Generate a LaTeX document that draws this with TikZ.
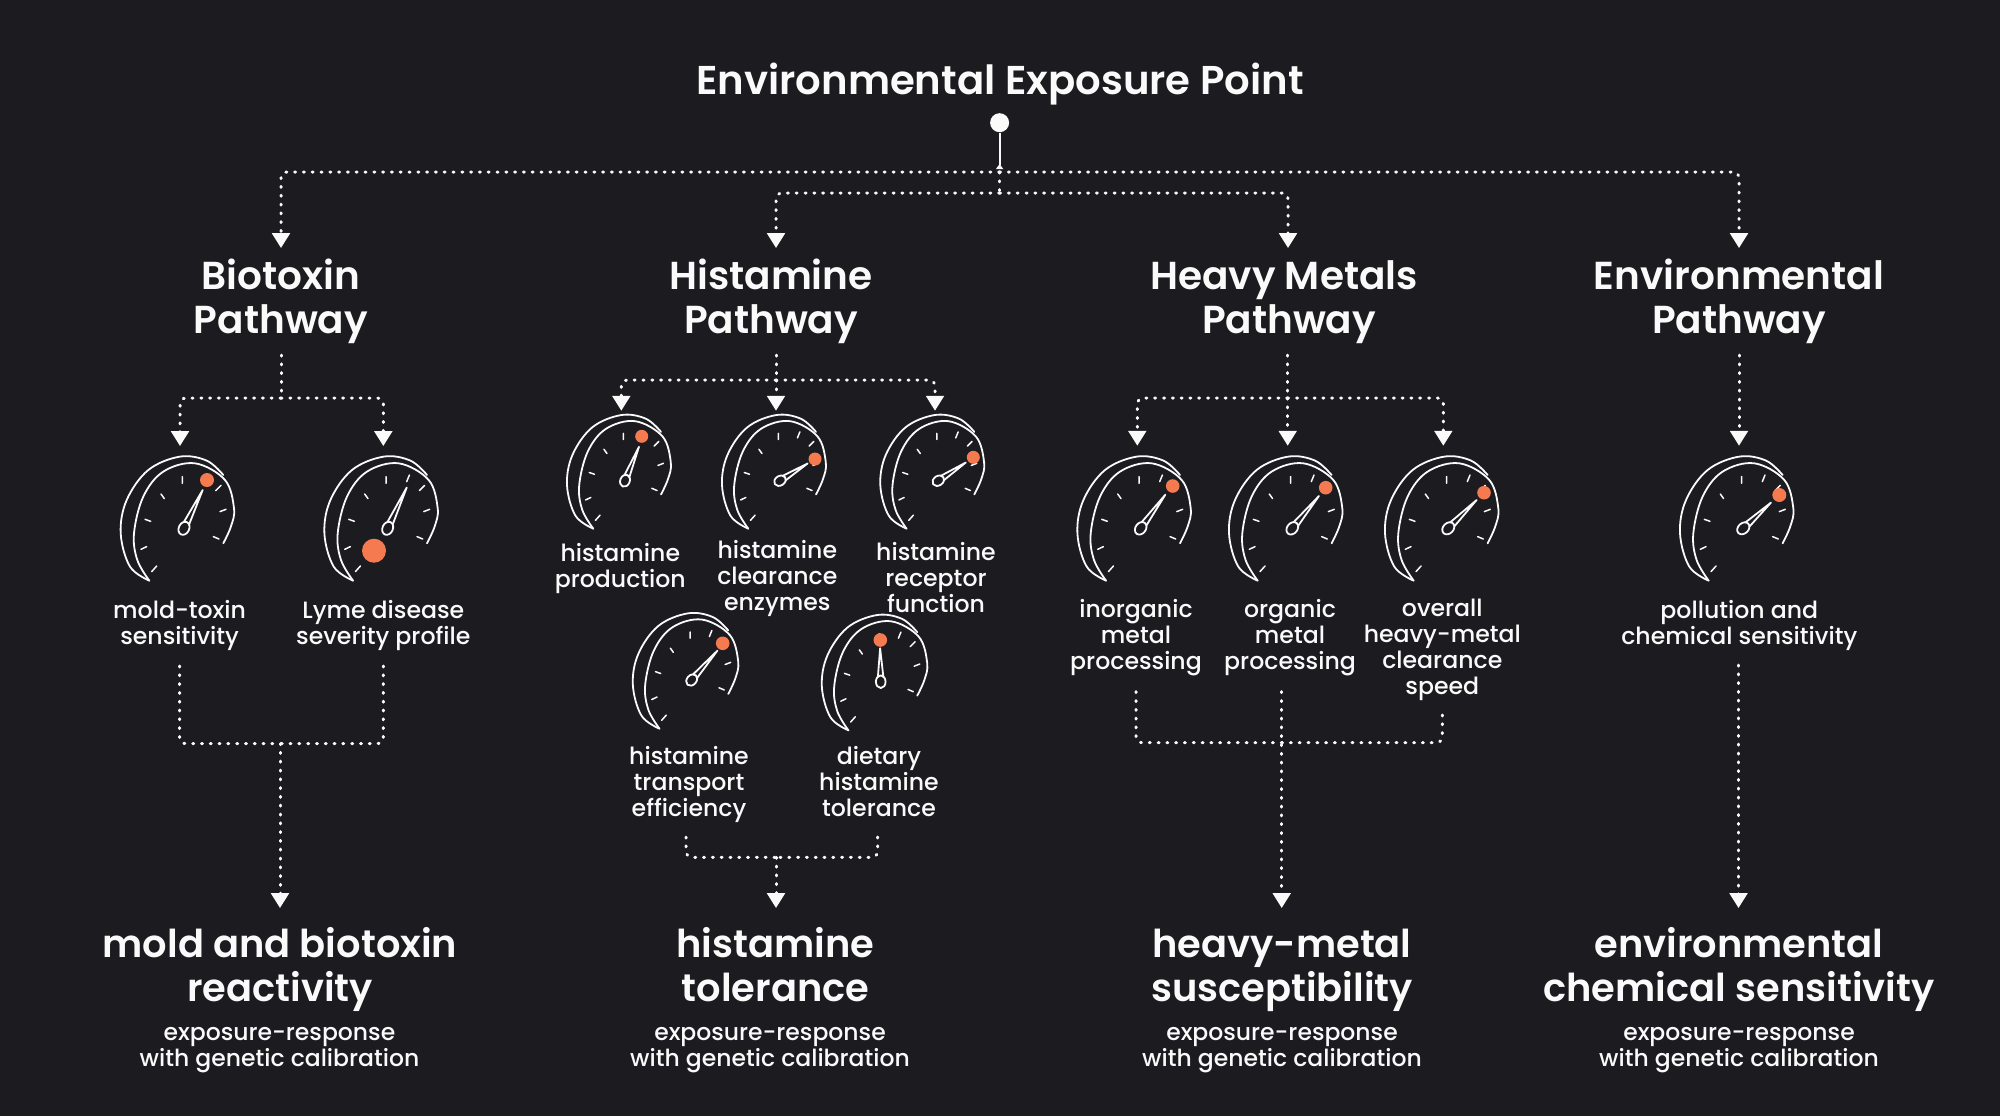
\documentclass[tikz,border=0pt]{standalone}
\usepackage{fontspec}
\usetikzlibrary{arrows.meta,calc}
\setmainfont{Poppins}
\newfontfamily\medf{Poppins Medium}
\newfontfamily\semif{Poppins SemiBold}
\definecolor{bgc}{HTML}{1C1C20}
\definecolor{dotc}{HTML}{F57A50}
\definecolor{ink}{HTML}{FAFAFA}
\tikzset{
  title/.style={text=ink,anchor=base,inner sep=0pt,align=center,font=\semif\fontsize{20.1}{22}\selectfont},
  head/.style={text=ink,anchor=base,inner sep=0pt,align=center,font=\semif\fontsize{19.5}{22}\selectfont},
  outcome/.style={text=ink,anchor=base,inner sep=0pt,align=center,font=\semif\fontsize{19.2}{22}\selectfont},
  lab/.style={text=ink,anchor=base,inner sep=0pt,align=center,font=\medf\fontsize{11.8}{13}\selectfont},
  sub/.style={text=ink,anchor=base,inner sep=0pt,align=center,font=\medf\fontsize{11.75}{13}\selectfont},
  dots/.style={draw=ink,line width=1.5pt,line cap=round,dash pattern=on 0.5pt off 3.9pt,rounded corners=3pt},
  darrow/.style={dots,-{Triangle[width=8.8pt,length=7.4pt,fill=ink]}},
  gline/.style={draw=ink,line width=0.9pt,line cap=round,line join=round},
  gtick/.style={draw=ink,line width=0.75pt,line cap=round}
}
% hub x, hub y, unit, needle angle, needle length, dot x, dot y, dot radius
\newcommand\gaugeat[8]{%
  \begin{scope}[shift={(#1,#2)},x=#3,y=#3]
    \draw[gline] plot[smooth,tension=0.6] coordinates {(39.3,-15) (47,2) (50,20) (41,48.3) (11,65) (-20.7,56.7) (-40.7,31.7) (-50,-5) (-46.7,-31.7) (-34.7,-52.3)};
    \draw[gline] plot[smooth,tension=0.6] coordinates {(-34.7,-52.3) (-54,-38.3) (-63.3,-5) (-57.3,28.3) (-35.7,58.3) (-4,71.7) (22.7,67.7) (39.3,53.3)};
    \draw[gtick] (-32.3,-43.3)--(-27.3,-37.7) (-43,-21)--(-37.3,-18.3) (-39,9)--(-33.3,7) (-23,34.3)--(-19.7,29.7) (-1.7,51.7)--(-1.7,45) (21.7,53.3)--(19,46.7) (37,43)--(31.7,37.7) (42,19)--(36,16.7) (35,-10.7)--(29.3,-8.3);
    \begin{scope}[rotate=#4]
      \draw[gline] (#5,0) -- (5.6,2.9) (#5,0) -- (5.6,-2.9);
      \draw[gline] (0,0) ellipse (6.8 and 5.2);
    \end{scope}
  \end{scope}
  \fill[dotc] (#6,#7) circle (#8);
}
\begin{document}
\begin{tikzpicture}[x=0.5pt,y=-0.5pt]
\useasboundingbox (0,0) rectangle (2000,1116);
\fill[bgc] (0,0) rectangle (2000,1116);

% headings
\node[title] (top) at (1000,94) {Environmental Exposure Point};
\node[head] (hB) at (281,333) {Biotoxin\\Pathway};
\node[head] (hH) at (771,333) {Histamine\\Pathway};
\node[head] (hM) at (1289,333) {Heavy Metals\hspace*{5pt}\\Pathway};
\node[head] (hE) at (1739,333) {Environmental\\Pathway};

% gauges
\gaugeat{184}{528.3}{0.5pt}{64}{42.6}{207}{480}{3.5pt}
\gaugeat{387.7}{528.3}{0.5pt}{65}{45}{374}{550.7}{6pt}
\gaugeat{625}{480.7}{0.458pt}{67.6}{40}{641.7}{436.3}{3.25pt}
\gaugeat{780}{480.7}{0.458pt}{32}{35.6}{815}{459}{3.25pt}
\gaugeat{938.3}{480.7}{0.458pt}{33.5}{36}{973.3}{457.3}{3.25pt}
\gaugeat{691.7}{680}{0.465pt}{48.8}{42}{722.7}{643.3}{3.4pt}
\gaugeat{880.7}{681.7}{0.465pt}{91}{36}{880.3}{640}{3.4pt}
\gaugeat{1140.7}{528.3}{0.5pt}{53.8}{41.7}{1172.7}{486}{3.4pt}
\gaugeat{1292.3}{528.3}{0.5pt}{50.5}{41.9}{1325.7}{487.7}{3.4pt}
\gaugeat{1448.3}{528.3}{0.5pt}{45}{40}{1484}{492.7}{3.4pt}
\gaugeat{1743.3}{528.3}{0.5pt}{42.9}{37.7}{1779.3}{495}{3.5pt}

% gauge labels
\node[lab] (l1) at (179.6,644) {mold-toxin\\sensitivity};
\node[lab] (l2) at (383.3,644) {Lyme disease\\severity profile};
\node[lab] (l3) at (620.3,587.3) {histamine\\production};
\node[lab] (l4) at (777.3,610.7) {histamine\\clearance\\enzymes};
\node[lab] (l5) at (936,612.7) {histamine\\receptor\\function};
\node[lab] (l6) at (689,816.7) {histamine\\transport\\efficiency};
\node[lab] (l7) at (879,816.7) {dietary\\histamine\\tolerance};
\node[lab] (l8) at (1136,669.3) {inorganic\\metal\\processing};
\node[lab] (l9) at (1290,669.3) {organic\\metal\\processing};
\node[lab] (l10) at (1442.3,694) {overall\\heavy-metal\\clearance\\speed};
\node[lab] (l11) at (1739.3,644) {pollution and\\chemical sensitivity};

% outcomes
\node[outcome] (oB) at (280,1001.7) {mold and biotoxin\\reactivity};
\node[outcome] (oH) at (775.5,1001.7) {histamine\\tolerance};
\node[outcome] (oM) at (1282,1001.7) {heavy-metal\\susceptibility};
\node[outcome] (oE) at (1739,1001.7) {environmental\\chemical sensitivity};
\node[sub] (sB) at (279.5,1066) {exposure-response\\with genetic calibration};
\node[sub] (sH) at (770,1066) {exposure-response\\with genetic calibration};
\node[sub] (sM) at (1282,1066) {exposure-response\\with genetic calibration};
\node[sub] (sE) at (1739,1066) {exposure-response\\with genetic calibration};

% root
\node[circle,fill=ink,inner sep=0pt,minimum size=9.5pt] (root) at (999.6,122.7) {};
\coordinate (rootEnd) at (999.6,169);
\draw[ink,line width=0.9pt,-{Triangle[reversed,width=3.5pt,length=2.5pt,fill=ink]}] (root) -- (rootEnd);

% top distribution
\coordinate (j0) at (999.6,172);
\coordinate (j1) at (999.6,193);
\coordinate (aB) at (281,248);
\coordinate (aH) at (776,248);
\coordinate (aM) at (1288,248);
\coordinate (aE) at (1739,248);
\draw[darrow] (j0) -| (aB);
\draw[darrow] (j0) -| (aE);
\draw[dots] (j0) -- (j1);
\draw[darrow] (j1) -| (aH);
\draw[darrow] (j1) -| (aM);

% biotoxin
\coordinate (bS) at (281,355);
\coordinate (bJ) at (281,398);
\coordinate (bA1) at (180,446);
\coordinate (bA2) at (383.3,446);
\draw[dots] (bS) -- (bJ);
\draw[darrow] (bJ) -| (bA1);
\draw[darrow] (bJ) -| (bA2);
\coordinate (bL1) at (179.6,666);
\coordinate (bL2) at (383.3,666);
\coordinate (bM) at (280,743.6);
\coordinate (bO) at (280,908);
\draw[dots] (bL1) |- (bM);
\draw[dots] (bL2) |- (bM);
\draw[darrow] (bM) -- (bO);

% histamine
\coordinate (hS) at (776,355);
\coordinate (hJ) at (776,380);
\coordinate (hA1) at (621.3,410.7);
\coordinate (hA2) at (776,410.7);
\coordinate (hA3) at (935,410.7);
\draw[dots] (hS) -- (hJ);
\draw[darrow] (hJ) -| (hA1);
\draw[darrow] (hJ) -- (hA2);
\draw[darrow] (hJ) -| (hA3);
\coordinate (hL1) at (686,837);
\coordinate (hL2) at (877.7,837);
\coordinate (hM) at (776,857.3);
\coordinate (hO) at (776,908);
\draw[dots] (hL1) |- (hM);
\draw[dots] (hL2) |- (hM);
\draw[darrow] (hM) -- (hO);

% metals
\coordinate (mS) at (1287.7,355);
\coordinate (mJ) at (1287.7,398);
\coordinate (mA1) at (1137.3,445.7);
\coordinate (mA2) at (1287.7,445.7);
\coordinate (mA3) at (1443.3,445.7);
\draw[dots] (mS) -- (mJ);
\draw[darrow] (mJ) -| (mA1);
\draw[darrow] (mJ) -- (mA2);
\draw[darrow] (mJ) -| (mA3);
\coordinate (mL1) at (1136,691.7);
\coordinate (mL2) at (1281.7,691.7);
\coordinate (mL3) at (1442.3,715);
\coordinate (mM) at (1281.7,742.7);
\coordinate (mO) at (1281.7,908);
\draw[dots] (mL1) |- (mM);
\draw[dots] (mL3) |- (mM);
\draw[darrow] (mL2) -- (mO);

% environmental
\coordinate (eS) at (1739,355);
\coordinate (eA) at (1739,445.7);
\coordinate (eL) at (1738.5,665);
\coordinate (eO) at (1738.5,908);
\draw[darrow] (eS) -- (eA);
\draw[darrow] (eL) -- (eO);
\end{tikzpicture}
\end{document}
